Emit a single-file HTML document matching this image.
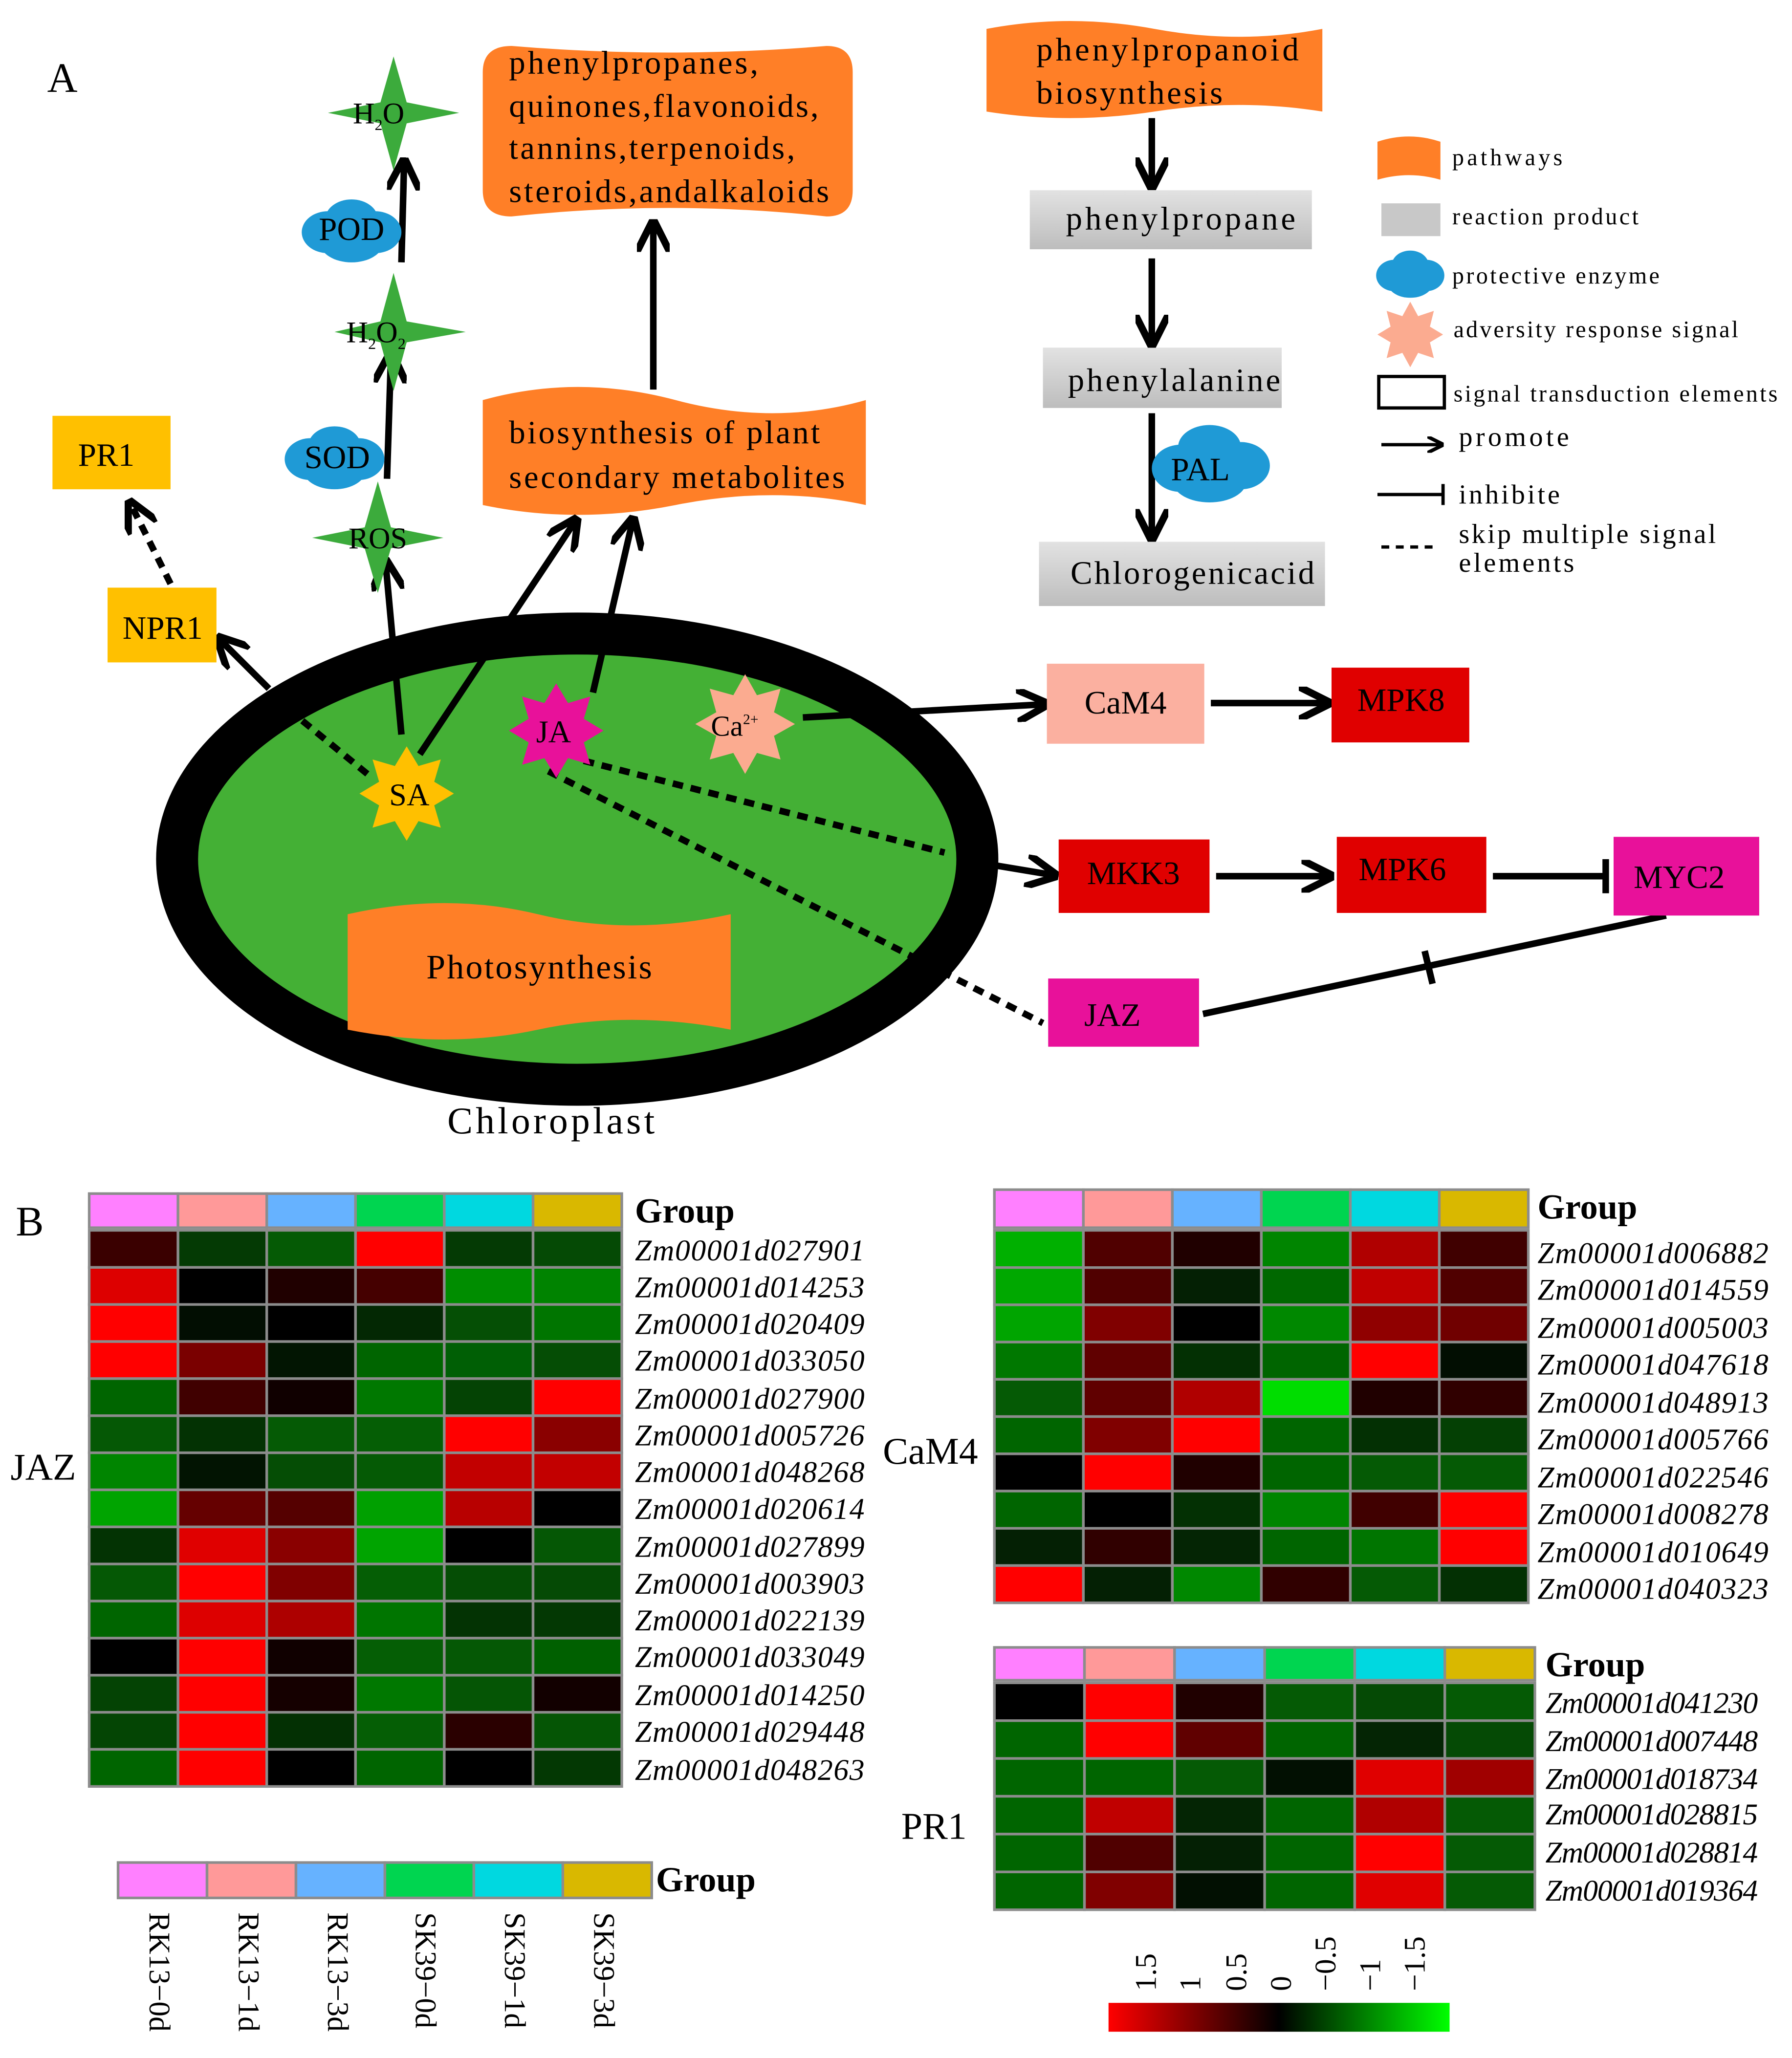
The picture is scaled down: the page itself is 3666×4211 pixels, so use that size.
<!DOCTYPE html>
<html><head><meta charset="utf-8"><style>html,body{margin:0;padding:0;background:#fff}svg{display:block}</style></head>
<body>
<svg id="s" xmlns="http://www.w3.org/2000/svg" width="3666" height="4211" viewBox="0 0 1366 1569" font-family="'Liberation Serif',serif">
<defs>
<marker id="ar" viewBox="0 0 10 10" refX="8" refY="5" markerWidth="5" markerHeight="5" orient="auto"><path d="M0,0 L10,5 L0,10" fill="none" stroke="#000" stroke-width="2.2"/></marker>
<linearGradient id="gr" x1="0" y1="0" x2="0" y2="1"><stop offset="0" stop-color="#e2e2e2"/><stop offset="1" stop-color="#bdbdbd"/></linearGradient>
<linearGradient id="ck" x1="0" y1="0" x2="1" y2="0"><stop offset="0" stop-color="#ff0000"/><stop offset="0.5" stop-color="#000"/><stop offset="1" stop-color="#00ff00"/></linearGradient>
</defs>
<rect width="1366" height="1569" fill="#fff"/>
<text x="36" y="70" font-size="32">A</text>
<text x="12" y="942" font-size="32">B</text>

<ellipse cx="440" cy="655" rx="305" ry="172" fill="#44b035" stroke="#000" stroke-width="32"/>
<path d="M265,697 Q340,680 410,697 Q480,714 557,697 L557,785 Q480,770 410,785 Q340,800 265,785 Z" fill="#ff7f27"/>
<text x="411" y="746" font-size="26" text-anchor="middle" textLength="172">Photosynthesis</text>
<text x="420" y="864" font-size="29" text-anchor="middle" textLength="158">Chloroplast</text>

<path d="M368,55 Q368,35 390,35 Q510,45 630,35 Q650,35 650,55 L650,145 Q650,165 630,165 Q510,152 390,165 Q368,165 368,145 Z" fill="#ff7f27"/>
<g font-size="25"><text x="388" y="56" textLength="190">phenylpropanes,</text><text x="388" y="89" textLength="236">quinones,flavonoids,</text><text x="388" y="121" textLength="218">tannins,terpenoids,</text><text x="388" y="154" textLength="244">steroids,andalkaloids</text></g>
<path d="M368,305 Q440,285 515,305 Q590,325 660,305 L660,385 Q590,370 515,385 Q440,400 368,385 Z" fill="#ff7f27"/>
<g font-size="25"><text x="388" y="338" textLength="237">biosynthesis of plant</text><text x="388" y="372" textLength="256">secondary metabolites</text></g>
<path d="M752,22 Q815,10 880,22 Q945,34 1008,22 L1008,85 Q945,75 880,85 Q815,95 752,85 Z" fill="#ff7f27"/>
<g font-size="25"><text x="790" y="46" textLength="200">phenylpropanoid</text><text x="790" y="79" textLength="142">biosynthesis</text></g>

<rect x="785" y="145" width="215" height="45" fill="url(#gr)"/><text x="900" y="175" font-size="25" text-anchor="middle" textLength="175">phenylpropane</text>
<rect x="795" y="265" width="182" height="46" fill="url(#gr)"/><text x="895" y="298" font-size="25" text-anchor="middle" textLength="162">phenylalanine</text>
<rect x="792" y="413" width="218" height="49" fill="url(#gr)"/><text x="909" y="445" font-size="25" text-anchor="middle" textLength="186">Chlorogenicacid</text>

<g stroke="#000" stroke-width="5" fill="none" marker-end="url(#ar)">
<line x1="878" y1="90" x2="878" y2="140"/>
<line x1="878" y1="197" x2="878" y2="260"/>
<line x1="878" y1="315" x2="878" y2="408"/>
<line x1="498" y1="297" x2="498" y2="172"/>
<line x1="306" y1="560" x2="294" y2="430"/>
<line x1="295" y1="365" x2="298" y2="272"/>
<line x1="306" y1="200" x2="308" y2="125"/>
<line x1="320" y1="575" x2="438" y2="398"/>
<line x1="452" y1="528" x2="482" y2="398"/>
<line x1="205" y1="525" x2="168" y2="488"/>
<line x1="612" y1="547" x2="795" y2="537"/>
<line x1="923" y1="536" x2="1010" y2="536"/>
<line x1="927" y1="668" x2="1012" y2="668"/>
</g>
<g stroke="#000" stroke-width="5" fill="none">
<line x1="130" y1="445" x2="100" y2="385" stroke-dasharray="8,6" marker-end="url(#ar)"/>
<line x1="280" y1="590" x2="225" y2="545" stroke-dasharray="8,6"/>
<line x1="445" y1="580" x2="720" y2="650" stroke-dasharray="8,6"/>
<line x1="760" y1="660" x2="802" y2="667" marker-end="url(#ar)"/>
<line x1="418" y1="588" x2="795" y2="780" stroke-dasharray="8,6"/>
<line x1="1138" y1="668" x2="1222" y2="668"/><line x1="1224" y1="655" x2="1224" y2="681"/>
<line x1="917" y1="773" x2="1270" y2="698"/><line x1="1086" y1="725" x2="1092" y2="750"/>
</g>

<g fill="#3cab3c">
<path d="M300,43 L310,78 L350,86 L310,94 L300,130 L290,94 L250,86 L290,78 Z"/>
<path d="M300,208 L310,245 L355,253 L310,261 L300,298 L290,261 L255,253 L290,245 Z"/>
<path d="M288,367 L298,402 L338,410 L298,418 L288,452 L278,418 L238,410 L278,402 Z"/>
</g>
<text x="269" y="94" font-size="23">H<tspan font-size="12" dy="5">2</tspan><tspan dy="-5">O</tspan></text>
<text x="264" y="261" font-size="23">H<tspan font-size="12" dy="5">2</tspan><tspan dy="-5">O</tspan><tspan font-size="12" dy="5">2</tspan></text>
<text x="288" y="418" font-size="23" text-anchor="middle">ROS</text>

<g fill="#1f9ad6">
<g transform="translate(268,175)"><ellipse cx="-18" cy="2" rx="20" ry="16"/><ellipse cx="0" cy="-8" rx="20" ry="15"/><ellipse cx="18" cy="2" rx="20" ry="16"/><ellipse cx="0" cy="10" rx="24" ry="15"/></g>
<g transform="translate(255,348)"><ellipse cx="-18" cy="2" rx="20" ry="16"/><ellipse cx="0" cy="-8" rx="20" ry="15"/><ellipse cx="18" cy="2" rx="20" ry="16"/><ellipse cx="0" cy="10" rx="24" ry="15"/></g>
<g transform="translate(922,353)"><ellipse cx="-22" cy="4" rx="22" ry="18"/><ellipse cx="0" cy="-12" rx="24" ry="17"/><ellipse cx="24" cy="2" rx="22" ry="18"/><ellipse cx="0" cy="14" rx="28" ry="16"/></g>
<g transform="translate(1075,208)"><ellipse cx="-12" cy="2" rx="14" ry="12"/><ellipse cx="0" cy="-6" rx="14" ry="11"/><ellipse cx="12" cy="2" rx="14" ry="12"/><ellipse cx="0" cy="8" rx="17" ry="11"/></g>
</g>
<g font-size="25" text-anchor="middle"><text x="268" y="183">POD</text><text x="257" y="357">SOD</text><text x="915" y="366">PAL</text></g>

<rect x="40" y="317" width="90" height="56" fill="#ffc000"/><text x="81" y="355" font-size="25" text-anchor="middle">PR1</text>
<rect x="82" y="448" width="83" height="57" fill="#ffc000"/><text x="124" y="487" font-size="25" text-anchor="middle">NPR1</text>

<polygon points="0,-36 9,-21 26,-26 21,-9 36,0 21,9 26,26 9,21 0,36 -9,21 -26,26 -21,9 -36,0 -21,-9 -26,-26 -9,-21" fill="#ffc000" transform="translate(310,605)"/>
<polygon points="0,-36 9,-21 26,-26 21,-9 36,0 21,9 26,26 9,21 0,36 -9,21 -26,26 -21,9 -36,0 -21,-9 -26,-26 -9,-21" fill="#e8119a" transform="translate(424,557)"/>
<polygon points="0,-38 9,-22 27,-27 22,-9 38,0 22,9 27,27 9,22 0,38 -9,22 -27,27 -22,9 -38,0 -22,-9 -27,-27 -9,-22" fill="#fbab90" transform="translate(568,552)"/>
<polygon points="0,-25 6,-14 18,-18 15,-6 25,0 15,6 18,18 6,14 0,25 -6,14 -18,18 -15,6 -25,0 -15,-6 -18,-18 -6,-14" fill="#fbab90" transform="translate(1075,255)"/>
<text x="312" y="614" font-size="24" text-anchor="middle">SA</text>
<text x="422" y="566" font-size="24" text-anchor="middle">JA</text>
<text x="560" y="561" font-size="22" text-anchor="middle">Ca<tspan font-size="11" dy="-9">2+</tspan></text>

<rect x="798" y="506" width="120" height="61" fill="#fbb0a0"/><text x="858" y="544" font-size="25" text-anchor="middle">CaM4</text>
<rect x="1015" y="509" width="105" height="57" fill="#e00000"/><text x="1068" y="542" font-size="25" text-anchor="middle">MPK8</text>
<rect x="807" y="640" width="115" height="56" fill="#e00000"/><text x="864" y="674" font-size="25" text-anchor="middle">MKK3</text>
<rect x="1019" y="638" width="114" height="58" fill="#e00000"/><text x="1069" y="671" font-size="25" text-anchor="middle">MPK6</text>
<rect x="1230" y="638" width="111" height="60" fill="#e8119a"/><text x="1280" y="677" font-size="25" text-anchor="middle">MYC2</text>
<rect x="799" y="746" width="115" height="52" fill="#e8119a"/><text x="848" y="782" font-size="25" text-anchor="middle">JAZ</text>

<path d="M1050,108 Q1074,100 1098,108 L1098,137 Q1074,130 1050,137 Z" fill="#ff7f27"/>
<rect x="1053" y="155" width="45" height="25" fill="#c8c8c8"/>
<rect x="1051" y="287" width="50" height="24" fill="none" stroke="#000" stroke-width="2.5"/>
<g stroke="#000" stroke-width="2.5" fill="none">
<line x1="1053" y1="339" x2="1098" y2="339" marker-end="url(#ar)"/>
<line x1="1050" y1="377" x2="1100" y2="377"/><line x1="1100" y1="369" x2="1100" y2="385"/>
<line x1="1053" y1="417" x2="1097" y2="417" stroke-dasharray="6,5"/>
</g>
<g font-size="18"><text x="1107" y="126" textLength="84">pathways</text><text x="1107" y="171" textLength="142">reaction product</text><text x="1107" y="216" textLength="158">protective enzyme</text><text x="1108" y="257" textLength="217">adversity response signal</text><text x="1108" y="306" textLength="247">signal transduction elements</text></g>
<g font-size="21"><text x="1112" y="340" textLength="84">promote</text><text x="1112" y="384" textLength="77">inhibite</text><text x="1112" y="414" textLength="196">skip multiple signal</text><text x="1112" y="436" textLength="88">elements</text></g>

<g id="hm"></g>
<g font-size="23" font-style="italic">
<g><text x="484" y="961" textLength="175">Zm00001d027901</text><text x="484" y="989" textLength="175">Zm00001d014253</text><text x="484" y="1017" textLength="175">Zm00001d020409</text><text x="484" y="1045" textLength="175">Zm00001d033050</text><text x="484" y="1074" textLength="175">Zm00001d027900</text><text x="484" y="1102" textLength="175">Zm00001d005726</text><text x="484" y="1130" textLength="175">Zm00001d048268</text><text x="484" y="1158" textLength="175">Zm00001d020614</text><text x="484" y="1187" textLength="175">Zm00001d027899</text><text x="484" y="1215" textLength="175">Zm00001d003903</text><text x="484" y="1243" textLength="175">Zm00001d022139</text><text x="484" y="1271" textLength="175">Zm00001d033049</text><text x="484" y="1300" textLength="175">Zm00001d014250</text><text x="484" y="1328" textLength="175">Zm00001d029448</text><text x="484" y="1357" textLength="175">Zm00001d048263</text></g>
<g><text x="1172" y="963" textLength="176">Zm00001d006882</text><text x="1172" y="991" textLength="176">Zm00001d014559</text><text x="1172" y="1020" textLength="176">Zm00001d005003</text><text x="1172" y="1048" textLength="176">Zm00001d047618</text><text x="1172" y="1077" textLength="176">Zm00001d048913</text><text x="1172" y="1105" textLength="176">Zm00001d005766</text><text x="1172" y="1134" textLength="176">Zm00001d022546</text><text x="1172" y="1162" textLength="176">Zm00001d008278</text><text x="1172" y="1191" textLength="176">Zm00001d010649</text><text x="1172" y="1219" textLength="176">Zm00001d040323</text></g>
<g><text x="1178" y="1306" textLength="162">Zm00001d041230</text><text x="1178" y="1335" textLength="162">Zm00001d007448</text><text x="1178" y="1364" textLength="162">Zm00001d018734</text><text x="1178" y="1391" textLength="162">Zm00001d028815</text><text x="1178" y="1420" textLength="162">Zm00001d028814</text><text x="1178" y="1449" textLength="162">Zm00001d019364</text></g>
</g>
<g font-size="27" font-weight="bold"><text x="484" y="932">Group</text><text x="1172" y="929">Group</text><text x="1178" y="1278">Group</text><text x="500" y="1442">Group</text></g>
<g font-size="29"><text x="8" y="1128">JAZ</text><text x="673" y="1116">CaM4</text><text x="687" y="1402">PR1</text></g>
<g font-size="23">
<text transform="translate(114,1458) rotate(90)">RK13−0d</text>
<text transform="translate(182,1458) rotate(90)">RK13−1d</text>
<text transform="translate(250,1458) rotate(90)">RK13−3d</text>
<text transform="translate(317,1458) rotate(90)">SK39−0d</text>
<text transform="translate(385,1458) rotate(90)">SK39−1d</text>
<text transform="translate(453,1458) rotate(90)">SK39−3d</text>
</g>
<rect x="845" y="1527" width="260" height="22" fill="url(#ck)"/>
<g font-size="23">
<text transform="translate(881,1518) rotate(-90)">1.5</text>
<text transform="translate(915,1518) rotate(-90)">1</text>
<text transform="translate(950,1518) rotate(-90)">0.5</text>
<text transform="translate(984,1518) rotate(-90)">0</text>
<text transform="translate(1018,1518) rotate(-90)">−0.5</text>
<text transform="translate(1052,1518) rotate(-90)">−1</text>
<text transform="translate(1086,1518) rotate(-90)">−1.5</text>
</g>
</svg>
<script>
var G=["#ff80ff","#ff9999","#66b2ff","#00d550","#00d8e0","#d9b800"];
var jaz=[["#3a0000","#043a04","#055a05","#ff0000","#043a04","#054a05"],
["#dd0000","#000","#200000","#450000","#008d00","#008300"],
["#ff0000","#020e02","#000","#032803","#054f05","#007500"],
["#ff0000","#7a0000","#021502","#006500","#005f05","#054d05"],
["#006500","#400000","#100000","#007800","#044304","#ff0000"],
["#055805","#033203","#055a05","#055e05","#ff0000","#8a0000"],
["#008500","#021402","#054d05","#055a05","#c20000","#c20000"],
["#00a400","#650000","#550000","#00a000","#b80000","#000"],
["#033303","#e00000","#8a0000","#00a400","#000","#055705"],
["#055805","#ff0000","#800000","#055e05","#054d05","#054a05"],
["#006500","#dd0000","#ad0000","#007500","#033303","#033803"],
["#000","#ff0000","#100000","#055e05","#055805","#006000"],
["#044304","#ff0000","#150000","#007800","#055505","#120000"],
["#044504","#ff0000","#033003","#055e05","#2a0000","#055505"],
["#006500","#ff0000","#000","#006500","#000","#033803"]];
var cam=[["#00b000","#500000","#200000","#008500","#b00000","#400000"],
["#00a800","#500000","#042004","#006800","#c00000","#500000"],
["#00a500","#800000","#000","#008800","#900000","#700000"],
["#007800","#600000","#033003","#006500","#ff0000","#020e02"],
["#055a05","#600000","#b00000","#00dd00","#200000","#300000"],
["#006500","#800000","#ff0000","#006500","#033003","#044004"],
["#000","#ff0000","#200000","#006500","#055a05","#055a05"],
["#006500","#000","#033003","#008500","#400000","#ff0000"],
["#042004","#300000","#042504","#006500","#007500","#ff0000"],
["#ff0000","#042004","#008800","#300000","#055a05","#033003"]];
var pr=[["#000","#ff0000","#200000","#055a05","#054a05","#055a05"],
["#006500","#ff0000","#600000","#006500","#042504","#054a05"],
["#006500","#006500","#055a05","#021002","#e00000","#a00000"],
["#006500","#c00000","#042504","#006500","#b00000","#055a05"],
["#006500","#500000","#042004","#006500","#ff0000","#055a05"],
["#006500","#800000","#021002","#006500","#e00000","#055a05"]];
var ns="http://www.w3.org/2000/svg",hm=document.getElementById("hm");
function R(x,y,w,h,f){var r=document.createElementNS(ns,"rect");r.setAttribute("x",x);r.setAttribute("y",y);r.setAttribute("width",w);r.setAttribute("height",h);r.setAttribute("fill",f);r.setAttribute("stroke","#8c8c8c");r.setAttribute("stroke-width","2");hm.appendChild(r);}
function H(x0,x1,gy,y0,y1,d){var cw=(x1-x0)/6,rh=(y1-y0)/d.length;for(var c=0;c<6;c++){R(x0+c*cw,gy,cw,y0-gy-2,G[c]);for(var r=0;r<d.length;r++)R(x0+c*cw,y0+r*rh,cw,rh,d[r][c]);}}
H(68,474,910,938,1362,jaz);
H(758,1165,907,938,1222,cam);
H(758,1170,1256,1283,1456,pr);
for(var c=0;c<6;c++)R(90+c*67.8,1420,67.8,27,G[c]);
</script>
</body></html>
